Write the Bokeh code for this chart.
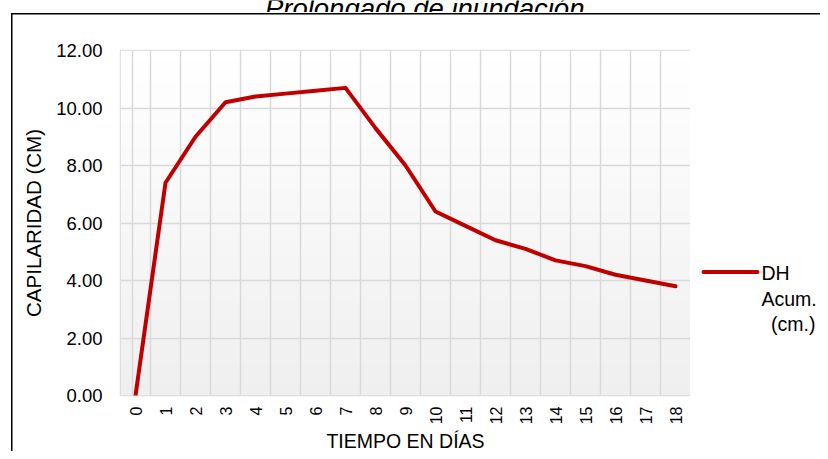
import numpy as np
from bokeh.plotting import figure
from bokeh.layouts import row, column
from bokeh.models import FixedTicker, NumeralTickFormatter, Span, Title
from bokeh.core.properties import value
from bokeh.embed import file_html
from bokeh.resources import INLINE

# ---- data ----
days = [0, 1, 2, 3, 4, 5, 6, 7, 8, 9, 10, 11, 12, 13, 14, 15, 16, 17, 18]
dh_acum = [0.0, 7.4, 9.0, 10.2, 10.4, 10.5, 10.6, 10.7, 9.3, 8.0,
           6.4, 5.9, 5.4, 5.1, 4.7, 4.5, 4.2, 4.0, 3.8]
y_ticks = [0, 2, 4, 6, 8, 10, 12]
title_text = "Prolongado de inundación."
x_title = "TIEMPO EN DÍAS"
y_title = "CAPILARIDAD (CM)"
legend_lines = ["DH", "Acum.", "(cm.)"]

FONT = "Liberation Sans"
RED = "#C00000"
GRID = "#d9d9d9"
TOP_STRIP = 12

# ---- title strip: the reference shows the title cut off at the top edge ----
tfig = figure(width=820, height=TOP_STRIP, output_backend="svg", toolbar_location=None,
              x_range=(0, 820), y_range=(TOP_STRIP, 0), x_axis_type=None, y_axis_type=None,
              min_border=0)
tfig.grid.visible = False
tfig.outline_line_color = None
tfig.background_fill_alpha = 0
tfig.border_fill_alpha = 0
tfig.text(x=[428], y=[7.5], text=[title_text], text_font=value(FONT),
          text_font_size="27.5px", text_font_style="italic", text_color="black",
          text_align="center", text_baseline="alphabetic")

# ---- main chart ----
p = figure(width=690, height=451 - TOP_STRIP, output_backend="svg", toolbar_location=None,
           x_range=(-0.5, 18.5), y_range=(0, 12),
           min_border_left=120, min_border_right=0,
           min_border_top=50 - TOP_STRIP, min_border_bottom=54)
p.background_fill_color = "white"
p.border_fill_alpha = 0
p.outline_line_color = GRID
p.outline_line_width = 1.5

# gradient plot-area background
n = 64
grad = np.zeros((n, 1), dtype=np.uint32)
view = grad.view(dtype=np.uint8).reshape((n, 1, 4))
for i in range(n):
    t = i / (n - 1)  # 0 bottom -> 1 top
    c = int(round(0xef + (0xff - 0xef) * t))
    view[i, 0, :] = [c, c, c, 255]
p.image_rgba(image=[grad], x=-0.5, y=0, dw=19, dh=12, level="image")

# grid
p.xgrid.ticker = FixedTicker(ticks=[d - 0.5 for d in days] + [days[-1] + 0.5])
p.ygrid.ticker = FixedTicker(ticks=y_ticks)
for g in (p.xgrid, p.ygrid):
    g.grid_line_color = GRID
    g.grid_line_width = 1.5
p.add_layout(Span(location=-0.1, dimension="height", line_color=GRID, line_width=1.5))

# data line
p.line(days, dh_acum, line_color=RED, line_width=4, line_join="round", line_cap="round")

# axes
p.xaxis.ticker = FixedTicker(ticks=days)
p.yaxis.ticker = FixedTicker(ticks=y_ticks)
p.yaxis.formatter = NumeralTickFormatter(format="0.00")
for ax in (p.xaxis, p.yaxis):
    ax.axis_line_color = None
    ax.major_tick_line_color = None
    ax.minor_tick_line_color = None
    ax.major_tick_in = 0
    ax.major_tick_out = 0
    ax.major_label_text_font = FONT
    ax.major_label_text_color = "black"
p.yaxis.major_label_text_font_size = "18.5px"
p.yaxis.major_label_standoff = 18
p.xaxis.major_label_text_font_size = "16px"
p.xaxis.major_label_orientation = np.pi / 2
p.xaxis.major_label_standoff = 11

p.yaxis.axis_label = y_title
p.yaxis.axis_label_text_font = FONT
p.yaxis.axis_label_text_font_size = "20.5px"
p.yaxis.axis_label_text_font_style = "normal"
p.yaxis.axis_label_text_color = "black"
p.yaxis.axis_label_standoff = 8

# x axis title
p.add_layout(Title(text=x_title, align="center", offset=11, standoff=0,
                   text_font=FONT, text_font_size="19.5px", text_font_style="normal",
                   text_color="black"), "below")

# ---- legend panel (shares the y scale of the chart) ----
leg = figure(width=130, height=451 - TOP_STRIP, output_backend="svg", toolbar_location=None,
             x_range=(0, 130), y_range=p.y_range, x_axis_type=None, y_axis_type=None,
             min_border_left=0, min_border_right=0,
             min_border_top=50 - TOP_STRIP, min_border_bottom=54)
leg.grid.visible = False
leg.outline_line_color = None
leg.background_fill_alpha = 0
leg.border_fill_alpha = 0
leg_line_x = [13, 67]
leg_line_y = 4.30
leg.line(leg_line_x, [leg_line_y, leg_line_y], line_color=RED, line_width=4, line_cap="round")
leg.text(x=[71, 71, 80.5], y=[4.26, 3.36, 2.50], text=legend_lines,
         text_font=value(FONT), text_font_size="19.5px", text_color="black",
         text_align="left", text_baseline="alphabetic")

layout = column(tfig, row(p, leg, spacing=0), spacing=0)
layout.styles = {
    "background": "linear-gradient(#000, #000) 11px 13px / 100% 1.5px no-repeat, "
                  "linear-gradient(#000, #000) 11px 13px / 1.5px 100% no-repeat, #fff"
}

open("out.html", "w").write(file_html(layout, INLINE))
